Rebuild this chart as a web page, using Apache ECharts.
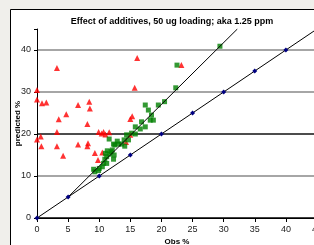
<!DOCTYPE html>
<html><head><meta charset="utf-8">
<script src="https://cdn.jsdelivr.net/npm/echarts@6/dist/echarts.min.js"></script>
<style>html,body{margin:0;padding:0;background:#f0efeb}#c{width:314px;height:245px}</style>
</head><body><div id="c"></div>
<script>
var titleText = 'Effect of additives, 50 ug loading; aka 1.25 ppm';
var xTicks = [0,5,10,15,20,25,30,35,40,45];
var yTicks = [0,10,20,30,40];
var redObs  = [0,0,0.8,1.5,3.2,3.5,4.7,3.2,6.6,8.4,8.5,8.1,9.9,10.4,10.7,11.0,11.6,15.0,15.3,15.7,16.1,0,0.6,0.7,3.2,4.2,6.6,8.1,8.2,9.3,9.8,10.5,14.3,15.0,23.2];
var redPred = [30.5,28.2,27.3,27.5,35.7,23.5,24.7,20.5,26.9,27.7,26.1,22.4,20.5,20.1,20.5,19.9,20.4,23.6,24.2,31.0,38.1,18.7,19.4,17.1,17.1,14.8,17.5,17.1,17.8,15.5,13.8,15.6,18.1,19.8,36.4];
var greenObs  = [9.1,9.3,9.9,10.0,10.5,10.7,11.2,10.9,11.2,11.7,11.0,11.3,11.9,12.1,12.4,12.3,12.5,13.1,13.6,14.1,14.0,14.7,11.6,12.3,12.9,15.8,15.2,14.4,16.6,15.8,17.4,16.8,18.2,18.7,18.4,17.9,17.4,19.5,20.5,22.3,22.5,29.4];
var greenPred = [11.6,11.0,11.3,11.8,12.2,13.0,13.0,14.0,14.6,15.2,15.4,16.0,15.8,16.2,15.0,14.0,17.4,17.6,17.6,17.1,18.6,18.6,18.8,17.6,18.3,20.0,20.2,19.8,21.2,21.7,21.7,22.9,23.3,23.3,24.5,25.7,26.9,26.9,27.7,31.0,36.4,40.9];
var idealX = [0,5,10,15,20,25,30,35,40,45];
var idealY = [0,5,10,15,20,25,30,35,40,45];
var fitX = [5,32.2];
var fitY = [5,45];

function pairs(a,b){return a.map(function(v,i){return [v,b[i]];});}
var chart = echarts.init(document.getElementById('c'), null, {renderer:'canvas'});
var font = 'Liberation Sans, Arial, sans-serif';
chart.setOption({
  backgroundColor:'#f0efeb',
  animation:false,
  graphic:[{type:'rect',z:-10,shape:{x:10.5,y:9.5,width:320,height:250},style:{fill:'#ffffff',stroke:'#000',lineWidth:1}}],
  title:{text:titleText,left:167,top:12,textAlign:'center',textStyle:{fontFamily:font,fontSize:9,fontWeight:'bold',color:'#000'}},
  grid:{left:37,top:29,width:280,height:189,containLabel:false,outerBoundsMode:'none'},
  xAxis:{type:'value',min:0,max:45,interval:5,name:'Obs %',nameLocation:'middle',nameGap:20,nameMoveOverlap:false,
    nameTextStyle:{fontFamily:font,fontSize:8,fontWeight:'bold',color:'#000'},
    axisLine:{lineStyle:{color:'#000',width:1}},axisTick:{length:4,lineStyle:{color:'#000'}},
    axisLabel:{fontFamily:font,fontSize:9,color:'#222',margin:7,showMaxLabel:true,formatter:function(v){return xTicks.indexOf(v)>=0?String(v):'';}},
    splitLine:{show:false}},
  yAxis:{type:'value',min:0,max:45,interval:10,name:'predicted %',nameLocation:'middle',nameGap:15,nameRotate:90,nameMoveOverlap:false,
    nameTextStyle:{fontFamily:font,fontSize:8,fontWeight:'bold',color:'#000'},
    axisLine:{show:true,lineStyle:{color:'#000',width:1}},axisTick:{show:true,length:3,lineStyle:{color:'#000'}},
    axisLabel:{fontFamily:font,fontSize:9,color:'#222',margin:6,formatter:function(v){return yTicks.indexOf(v)>=0?String(v):'';}},
    splitLine:{show:true,lineStyle:{color:['#000','#888','#111','#888','#888','rgba(0,0,0,0)'],width:1.5}}},
  series:[
    {type:'scatter',data:pairs(redObs,redPred),symbol:'triangle',symbolSize:6,itemStyle:{color:'#ff0000'},z:2},
    {type:'scatter',data:pairs(greenObs,greenPred),symbol:'rect',symbolSize:5,itemStyle:{color:'#008000'},z:3},
    {type:'line',data:pairs(fitX,fitY),symbol:'none',lineStyle:{color:'#000',width:1},z:4},
    {type:'line',data:pairs(idealX,idealY),symbol:'diamond',
      symbolSize:function(v){return v[0]>40?0:5;},showAllSymbol:true,
      itemStyle:{color:'#000080'},lineStyle:{color:'#000',width:1},z:5}
  ]
});
</script></body></html>
